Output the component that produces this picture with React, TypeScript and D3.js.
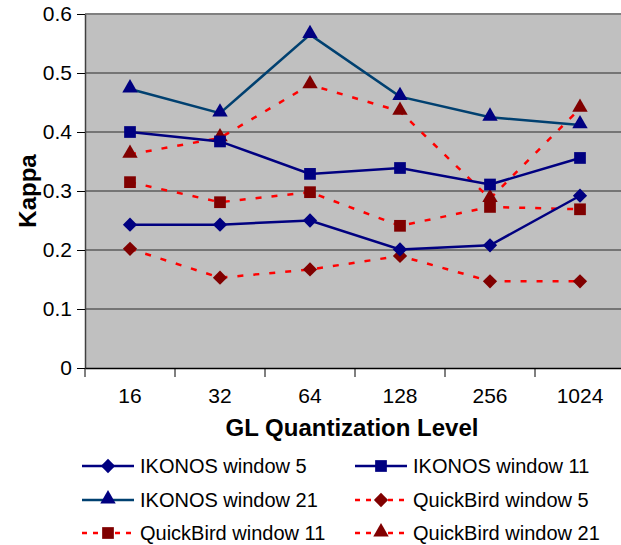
import React, { useEffect, useRef } from "react";
import * as d3 from "d3";

// GL quantization levels on the x axis
const levels = ["16", "32", "64", "128", "256", "1024"];
const yTicks = [0, 0.1, 0.2, 0.3, 0.4, 0.5, 0.6];

const ikonos5 = [0.243, 0.243, 0.25, 0.201, 0.208, 0.292];
const ikonos11 = [0.4, 0.384, 0.329, 0.339, 0.311, 0.356];
const ikonos21 = [0.473, 0.432, 0.565, 0.46, 0.425, 0.412];
const quickbird5 = [0.202, 0.153, 0.167, 0.19, 0.147, 0.147];
const quickbird11 = [0.315, 0.281, 0.298, 0.241, 0.273, 0.269];
const quickbird21 = [0.362, 0.39, 0.48, 0.435, 0.287, 0.44];

const seriesNames = [
  "IKONOS window 5",
  "IKONOS window 11",
  "IKONOS window 21",
  "QuickBird window 5",
  "QuickBird window 11",
  "QuickBird window 21",
];

type Series = {
  name: string;
  values: number[];
  line: string;
  fill: string;
  dash: string | null;
  shape: "diamond" | "square" | "triangle";
};

const App: React.FC = () => {
  const svgRef = useRef<SVGSVGElement | null>(null);

  useEffect(() => {
    const width = 621;
    const height = 545;
    const marginLeft = 85;
    const marginTop = 14;
    const plotBottom = 368;
    const plotRight = 625;
    const font = "'Liberation Sans', Arial, sans-serif";

    const series: Series[] = [
      { name: seriesNames[0], values: ikonos5, line: "#000080", fill: "#000080", dash: null, shape: "diamond" },
      { name: seriesNames[1], values: ikonos11, line: "#000080", fill: "#000080", dash: null, shape: "square" },
      { name: seriesNames[2], values: ikonos21, line: "#004070", fill: "#000080", dash: null, shape: "triangle" },
      { name: seriesNames[3], values: quickbird5, line: "#ff0000", fill: "#800000", dash: "6,10", shape: "diamond" },
      { name: seriesNames[4], values: quickbird11, line: "#ff0000", fill: "#800000", dash: "6,10", shape: "square" },
      { name: seriesNames[5], values: quickbird21, line: "#ff0000", fill: "#800000", dash: "6,10", shape: "triangle" },
    ];

    const x = d3.scaleBand().domain(levels).range([marginLeft, plotRight]);
    const y = d3.scaleLinear().domain([0, 0.6]).range([plotBottom, marginTop]);

    const svg = d3
      .select(svgRef.current)
      .attr("width", width)
      .attr("height", height)
      .attr("viewBox", [0, 0, width, height])
      .style("font-family", font);
    svg.selectAll("*").remove();

    // plot area
    svg
      .append("rect")
      .attr("x", marginLeft)
      .attr("y", marginTop)
      .attr("width", plotRight - marginLeft)
      .attr("height", plotBottom - marginTop)
      .attr("fill", "#c0c0c0");

    // gridlines
    svg
      .append("g")
      .selectAll("line")
      .data(yTicks.filter((t) => t > 0 && t < 0.6))
      .enter()
      .append("line")
      .attr("x1", marginLeft)
      .attr("x2", plotRight)
      .attr("y1", (d) => y(d))
      .attr("y2", (d) => y(d))
      .attr("stroke", "#2a2a2a")
      .attr("stroke-width", 1.2);

    svg
      .append("line")
      .attr("x1", marginLeft)
      .attr("x2", plotRight)
      .attr("y1", marginTop)
      .attr("y2", marginTop)
      .attr("stroke", "#808080")
      .attr("stroke-width", 2);

    // y axis
    const gy = svg
      .append("g")
      .attr("transform", `translate(${marginLeft},0)`)
      .call(
        d3
          .axisLeft(y)
          .tickValues(yTicks)
          .tickSize(8)
          .tickSizeOuter(0)
          .tickPadding(5)
          .tickFormat((d) => (d === 0 ? "0" : d3.format(".1f")(d as number))),
      );
    gy.select(".domain").attr("stroke", "#404040").attr("stroke-width", 1.5);
    gy.selectAll("line").attr("stroke", "#000");
    gy.selectAll("text")
      .style("font-size", "21px")
      .style("font-family", font)
      .attr("fill", "#000");

    // x axis
    const gx = svg
      .append("g")
      .attr("transform", `translate(0,${plotBottom})`)
      .call(d3.axisBottom(x).tickSize(0).tickSizeOuter(0).tickPadding(20));
    gx.select(".domain").attr("stroke", "#000").attr("stroke-width", 1.5);
    gx.selectAll("text")
      .style("font-size", "21px")
      .style("font-family", font)
      .attr("fill", "#000");

    // category separator ticks
    svg
      .append("g")
      .selectAll("line")
      .data(levels)
      .enter()
      .append("line")
      .attr("x1", (d) => x(d) as number)
      .attr("x2", (d) => x(d) as number)
      .attr("y1", plotBottom)
      .attr("y2", plotBottom + 9)
      .attr("stroke", "#000")
      .attr("stroke-width", 1);

    // axis titles
    svg
      .append("text")
      .attr("x", 352)
      .attr("y", 436)
      .attr("text-anchor", "middle")
      .style("font-size", "24px")
      .style("font-weight", "bold")
      .text("GL Quantization Level");

    svg
      .append("text")
      .attr("transform", `translate(36,191) rotate(-90)`)
      .attr("text-anchor", "middle")
      .style("font-size", "24px")
      .style("font-weight", "bold")
      .text("Kappa");

    const symbolFor = (shape: Series["shape"]) => {
      if (shape === "diamond") return d3.symbol(d3.symbolDiamond2, 130)();
      if (shape === "square") return d3.symbol(d3.symbolSquare2, 175)();
      return d3.symbol(d3.symbolTriangle2, 170)();
    };

    const cx = (i: number) => (x(levels[i]) as number) + x.bandwidth() / 2;

    const line = d3
      .line<number>()
      .x((_, i) => cx(i))
      .y((d) => y(d));

    const drawOrder = [3, 4, 5, 0, 1, 2];
    drawOrder.forEach((k) => {
      const s = series[k];
      svg
        .append("path")
        .datum(s.values)
        .attr("d", line)
        .attr("fill", "none")
        .attr("stroke", s.line)
        .attr("stroke-width", 2.5)
        .attr("stroke-dasharray", s.dash);
      svg
        .append("g")
        .selectAll("path")
        .data(s.values)
        .enter()
        .append("path")
        .attr("d", symbolFor(s.shape))
        .attr(
          "transform",
          (d, i) => `translate(${cx(i)},${y(d) + (s.shape === "triangle" ? -1 : 0)})`,
        )
        .attr("fill", s.fill);
    });

    // legend
    const legendX = [82, 355];
    const legendY = [466, 500, 533];
    series.forEach((s, k) => {
      const lx = legendX[k % 2];
      const ly = legendY[Math.floor(k / 2)];
      const g = svg.append("g").attr("transform", `translate(${lx},${ly})`);
      g.append("line")
        .attr("x1", 0)
        .attr("x2", 52)
        .attr("y1", 0)
        .attr("y2", 0)
        .attr("stroke", s.line)
        .attr("stroke-width", 2.5)
        .attr("stroke-dasharray", s.dash ? "5,6" : null);
      g.append("path")
        .attr("d", symbolFor(s.shape))
        .attr("transform", `translate(26,${s.shape === "triangle" ? -1 : 0})`)
        .attr("fill", s.fill);
      g.append("text")
        .attr("x", 58)
        .attr("y", 7)
        .style("font-size", "20px")
        .attr("fill", "#000")
        .text(s.name);
    });
  }, []);

  return (
    <div style={{ position: "absolute", left: 0, top: 0, width: 621, height: 545, background: "#fff" }}>
      <svg ref={svgRef}></svg>
    </div>
  );
};

export default App;
